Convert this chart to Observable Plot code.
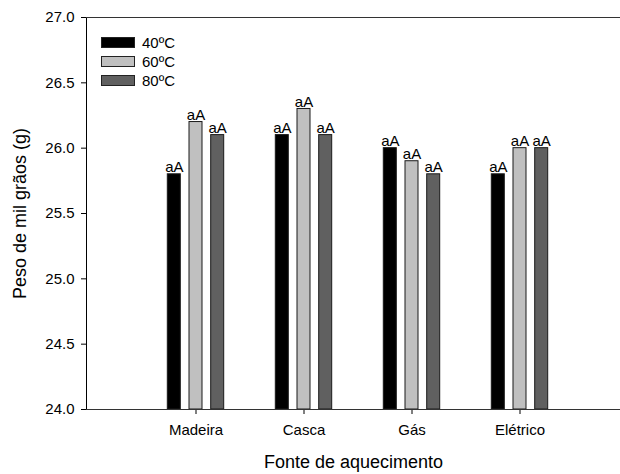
<!DOCTYPE html>
<html>
<head>
<meta charset="utf-8">
<script src="https://cdn.jsdelivr.net/npm/d3@7"></script>
<script src="https://cdn.jsdelivr.net/npm/@observablehq/plot@0.6"></script>
<style>
  html, body { margin: 0; padding: 0; background: #fff; overflow: hidden; }
  #wrap { position: relative; width: 620px; height: 474px; font-family: "Liberation Sans", Arial, sans-serif; }
  #legend { position: absolute; left: 101px; top: 33px; font-size: 15px; color: #000; }
  .row { display: flex; align-items: center; height: 19px; }
  .sw { width: 34px; height: 11px; box-sizing: border-box; border: 1px solid #222; margin-right: 7px; }
</style>
</head>
<body>
<div id="wrap"><div id="legend"></div></div>
<script>
const categories = ["Madeira", "Casca", "Gás", "Elétrico"];
const series = ["40ºC", "60ºC", "80ºC"];
const values40 = [25.8, 26.1, 26.0, 25.8];
const values60 = [26.2, 26.3, 25.9, 26.0];
const values80 = [26.1, 26.1, 25.8, 26.0];
const labels40 = ["aA", "aA", "aA", "aA"];
const labels60 = ["aA", "aA", "aA", "aA"];
const labels80 = ["aA", "aA", "aA", "aA"];
const colors = ["#000000", "#c0c0c0", "#606060"];
const yTicks = [24.0, 24.5, 25.0, 25.5, 26.0, 26.5, 27.0];
const xTitle = "Fonte de aquecimento";
const yTitle = "Peso de mil grãos (g)";

const seriesValues = [values40, values60, values80];
const seriesLabels = [labels40, labels60, labels80];
const offsets = [-21.7, 0, 21.7];

const marks = [];
series.forEach((s, si) => {
  const rows = categories.map((c, i) => ({category: c, value: seriesValues[si][i], label: seriesLabels[si][i]}));
  marks.push(Plot.barY(rows, {
    x: "category", y1: 24, y2: "value",
    fill: colors[si], stroke: "#1a1a1a", strokeWidth: 1,
    dx: offsets[si], insetLeft: 15, insetRight: 15
  }));
  marks.push(Plot.text(rows, {
    x: "category", y: "value", text: "label", dx: offsets[si], dy: -2,
    lineAnchor: "bottom", fontSize: 15, fill: "#000"
  }));
});
marks.push(Plot.ruleY([24, 27], {stroke: "#333", strokeWidth: 1.2}));
marks.push(Plot.text([yTitle], {frameAnchor: "left", textAnchor: "middle", dx: -66, rotate: -90, fontSize: 18, fill: "#000"}));
marks.push(Plot.text([xTitle], {frameAnchor: "bottom", textAnchor: "middle", dy: 58, fontSize: 18, fill: "#000"}));

const chart = Plot.plot({
  width: 620,
  height: 474,
  marginLeft: 86,
  marginRight: 0,
  marginTop: 17,
  marginBottom: 65,
  style: {fontFamily: "Liberation Sans, Arial, sans-serif", fontSize: "15px", color: "#000", background: "#fff", overflow: "visible"},
  x: {domain: categories, range: [86, 630], paddingInner: 0.6, paddingOuter: 0.8, label: null, tickSize: 5, tickPadding: 10},
  y: {domain: [24, 27], ticks: yTicks, tickFormat: d3.format(".1f"), tickSize: 5, tickPadding: 7, label: null, line: true},
  marks
});
document.getElementById("wrap").prepend(chart);

const legend = d3.select("#legend");
series.forEach((s, si) => {
  const r = legend.append("div").attr("class", "row");
  r.append("div").attr("class", "sw").style("background", colors[si]);
  r.append("span").text(s);
});
</script>
</body>
</html>
